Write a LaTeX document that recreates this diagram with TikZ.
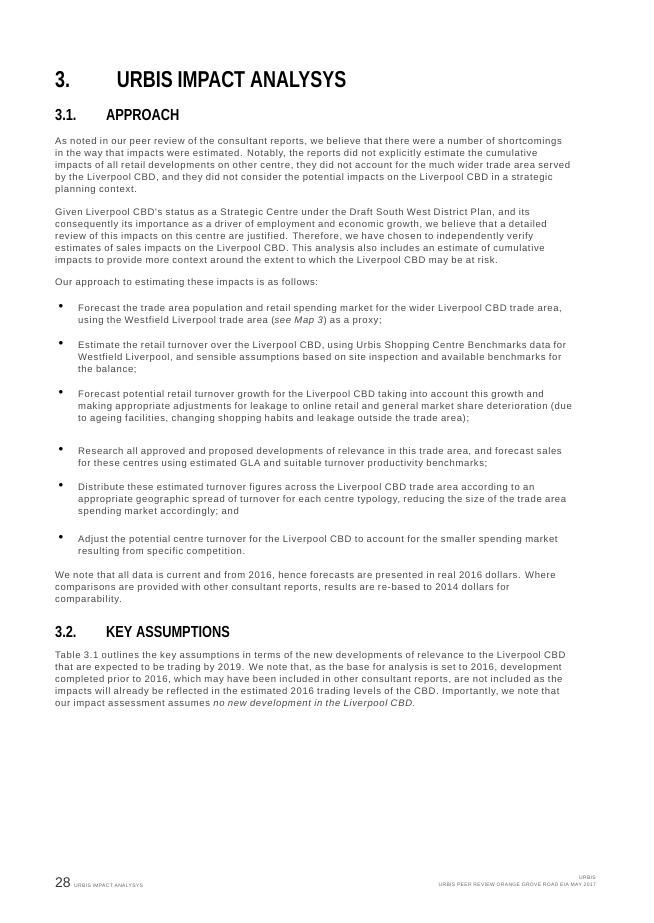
\documentclass[tikz,border=0pt]{standalone}
\usepackage{fontspec}
\setmainfont{Liberation Sans}
\newfontfamily\bodyfont[LetterSpace=7]{Liberation Sans}
\begin{document}
\begin{tikzpicture}[x=1pt,y=-1pt,
 body/.style={anchor=north west,inner sep=0pt,align=left,font=\bodyfont\fontsize{9.5}{12}\selectfont,text=black!72},
 head/.style={anchor=west,inner sep=0pt,font=\bfseries,text=black},
 bul/.style={anchor=north,inner sep=0pt,font=\fontsize{8.6}{12}\selectfont}]
\path[use as bounding box,fill=white] (0,0) rectangle (653,923);
\node[head,font=\bfseries\fontsize{23}{26}\selectfont] (h1) at (55,80) {\scalebox{0.78}[1]{3.\hspace{60pt}URBIS IMPACT ANALYSYS}};
\node[head,font=\bfseries\fontsize{16}{18}\selectfont] (h2) at (55,115) {\scalebox{0.8}[1]{3.1.\hspace{37pt}APPROACH}};
\node[body] (p1) at (55,137) {As noted in our peer review of the consultant reports, we believe that there were a number of shortcomings\\
in the way that impacts were estimated. Notably, the reports did not explicitly estimate the cumulative\\
impacts of all retail developments on other centre, they did not account for the much wider trade area served\\
by the Liverpool CBD, and they did not consider the potential impacts on the Liverpool CBD in a strategic\\
planning context.};
\node[body] (p2) at (55,208) {Given Liverpool CBD's status as a Strategic Centre under the Draft South West District Plan, and its\\
consequently its importance as a driver of employment and economic growth, we believe that a detailed\\
review of this impacts on this centre are justified. Therefore, we have chosen to independently verify\\
estimates of sales impacts on the Liverpool CBD. This analysis also includes an estimate of cumulative\\
impacts to provide more context around the extent to which the Liverpool CBD may be at risk.};
\node[body] (p3) at (55,278) {Our approach to estimating these impacts is as follows:};
\foreach \y/\t [count=\i] in {
304/{Forecast the trade area population and retail spending market for the wider Liverpool CBD trade area,\\using the Westfield Liverpool trade area (\textit{see Map 3}) as a proxy;},
341/{Estimate the retail turnover over the Liverpool CBD, using Urbis Shopping Centre Benchmarks data for\\Westfield Liverpool, and sensible assumptions based on site inspection and available benchmarks for\\the balance;},
390/{Forecast potential retail turnover growth for the Liverpool CBD taking into account this growth and\\making appropriate adjustments for leakage to online retail and general market share deterioration (due\\to ageing facilities, changing shopping habits and leakage outside the trade area);},
447/{Research all approved and proposed developments of relevance in this trade area, and forecast sales\\for these centres using estimated GLA and suitable turnover productivity benchmarks;},
483/{Distribute these estimated turnover figures across the Liverpool CBD trade area according to an\\appropriate geographic spread of turnover for each centre typology, reducing the size of the trade area\\spending market accordingly; and},
535/{Adjust the potential centre turnover for the Liverpool CBD to account for the smaller spending market\\resulting from specific competition.}}
{\node[bul] (b\i) at (61,\y) {$\bullet$};
 \node[body] (t\i) at (78,\y) {\t};}
\node[body] (p4) at (55,571) {We note that all data is current and from 2016, hence forecasts are presented in real 2016 dollars. Where\\
comparisons are provided with other consultant reports, results are re-based to 2014 dollars for\\
comparability.};
\node[head,font=\bfseries\fontsize{16}{18}\selectfont] (h3) at (55,632) {\scalebox{0.8}[1]{3.2.\hspace{37pt}KEY ASSUMPTIONS}};
\node[body] (p5) at (55,651) {Table 3.1 outlines the key assumptions in terms of the new developments of relevance to the Liverpool CBD\\
that are expected to be trading by 2019. We note that, as the base for analysis is set to 2016, development\\
completed prior to 2016, which may have been included in other consultant reports, are not included as the\\
impacts will already be reflected in the estimated 2016 trading levels of the CBD. Importantly, we note that\\
our impact assessment assumes \textit{no new development in the Liverpool CBD}.};
\node[anchor=base west,inner sep=0pt,font=\fontsize{14}{16}\selectfont,text=black!80] (pg) at (55,887) {28};
\node[anchor=base west,inner sep=0pt,font=\bodyfont\fontsize{5}{6}\selectfont,text=black!60] (ft) at (pg.base east) {\hspace{3pt}URBIS IMPACT ANALYSYS};
\node[anchor=base east,inner sep=0pt,font=\bodyfont\fontsize{5}{6}\selectfont,text=black!60] (fr2) at (596,886) {URBIS PEER REVIEW ORANGE GROVE ROAD EIA MAY 2017};
\node[anchor=base east,inner sep=0pt,font=\bodyfont\fontsize{5}{6}\selectfont,text=black!60] (fr1) at (596,879) {URBIS};
\end{tikzpicture}
\end{document}
